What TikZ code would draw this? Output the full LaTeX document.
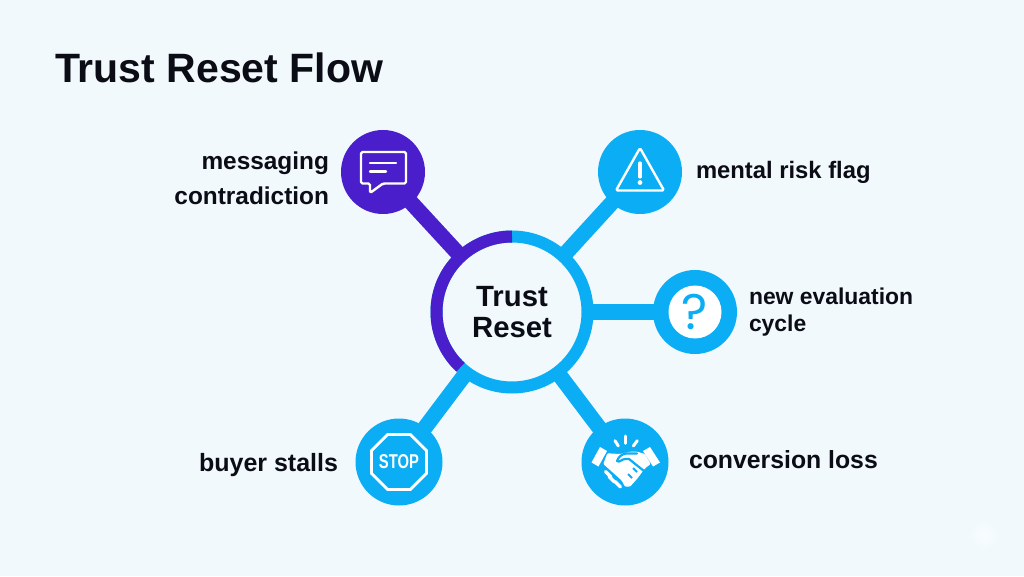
\documentclass[tikz,border=0pt]{standalone}
\usepackage{fontspec}
\setmainfont{Liberation Sans}
\newfontfamily\markfont{Poppins}
\usetikzlibrary{shapes.geometric}
\definecolor{bgc}{HTML}{F1F9FD}
\definecolor{glowc}{HTML}{F8FCFF}
\definecolor{violetc}{HTML}{4A1FCB}
\definecolor{skyc}{HTML}{0BAEF5}
\definecolor{inkc}{HTML}{0C0C16}
\tikzset{
  hubring/.style={circle,draw=skyc,line width=12pt,fill=bgc,minimum size=151pt,inner sep=0pt,outer sep=0pt,align=center,text=inkc,font=\bfseries\fontsize{29.3}{31}\selectfont},
  sat/.style={circle,minimum size=84pt,inner sep=0pt,outer sep=0pt},
  bigsat/.style={sat,minimum size=87pt},
  arm/.style={line width=15.5pt,shorten >=-1pt},
  lbl/.style={inner sep=0pt,outer sep=0pt,text=inkc,font=\bfseries\fontsize{#1}{#1}\selectfont},
  icon/.style={draw=white,line width=2.4pt,line join=round,line cap=round},
}
\begin{document}
\begin{tikzpicture}[x=1pt,y=1pt]
  \useasboundingbox (0,0) rectangle (1024,576);
  % background
  \fill[bgc] (0,0) rectangle (1024,576);
  \shade[inner color=glowc,outer color=bgc,draw=none] (984,41) circle (16);

  \node[lbl=41,anchor=base west] (title) at (55,493) {Trust Reset Flow};

  % Hub and the five circles around it
  \node[hubring] (hub) at (512,264) {Trust\\Reset};
  \node[sat,fill=violetc] (msg) at (383,404) {};
  \node[sat,fill=skyc] (warn) at (640,404) {};
  \node[sat,fill=skyc] (ques) at (695,264) {};
  \node[bigsat,fill=skyc] (stop) at (399,114) {};
  \node[bigsat,fill=skyc] (shake) at (625,114) {};

  % Arms
  \draw[arm,violetc] (hub) -- (msg);
  \draw[arm,skyc] (hub) -- (warn);
  \draw[arm,skyc] (hub) -- (ques);
  \draw[arm,skyc] (hub) -- (stop);
  \draw[arm,skyc] (hub) -- (shake);
  \draw[violetc,line width=12pt] (hub.90) arc[start angle=90,end angle=227,radius=75.5pt];

  % Labels
  \node[lbl=24.4,anchor=east,align=right] (msglbl) at (329,398) {messaging\\[10.6pt]contradiction};
  \node[lbl=23.8,anchor=base west] (warnlbl) at (696,397) {mental risk flag};
  \node[lbl=22.9,anchor=west,align=left] (queslbl) at (749,264) {new evaluation\\[3.8pt]cycle};
  \node[lbl=25,anchor=base east] (stoplbl) at (338,105) {buyer stalls};
  \node[lbl=24.8,anchor=base west] (shakelbl) at (689,107.5) {conversion loss};

  % Speech bubble
  \begin{scope}[shift={(msg.center)}]
    \draw[icon,rounded corners=1.5pt] (-22,20) -- (23,20) -- (23,-11.5) -- (0,-11.5) -- (-13,-21) -- (-13,-11.5) -- (-22,-11.5) -- cycle;
    \draw[icon] (-13,9) -- (13,9);
    \draw[icon] (-13,0.5) -- (3,0.5);
  \end{scope}

  % Warning triangle
  \begin{scope}[shift={(warn.center)}]
    \draw[icon,rounded corners=1.5pt] (0,24) -- (24,-18.5) -- (-24,-18.5) -- cycle;
    \draw[icon,line width=3.2pt] (0,9) -- (0,-5);
    \fill[white] (0,-10.5) circle (2.4);
  \end{scope}

  % Question mark
  \node[circle,fill=white,minimum size=53pt,inner sep=0pt] (quesdisc) at (ques.center) {};
  \node[inner sep=0pt,text=skyc,font=\markfont\fontsize{50}{50}\selectfont] (quesmark) at (ques.center) {?};

  % Stop sign
  \node[regular polygon,regular polygon sides=8,draw=white,line width=2.8pt,minimum size=59.5pt,inner sep=0pt] (octa) at (stop.center) {};
  \node[inner sep=0pt,text=white,xscale=.74,font=\bfseries\fontsize{20}{20}\selectfont] (stoptxt) at (stop.center) {STOP};

  % Handshake
  \begin{scope}[shift={(shake.center)}]
    \foreach \a/\b in {{(-10,21.3)}/{(-6.7,16)},{(0,26)}/{(0,18.7)},{(12.3,21.3)}/{(8.3,16)}}
      \draw[icon,line width=3pt] \a -- \b;
    \fill[white] (-33.5,-.5) -- (-25,15) -- (-18,11) -- (-26.5,-4.5) -- cycle;
    \fill[white] (18,11) -- (25,15) -- (35,-.5) -- (28,-4.5) -- cycle;
    \fill[white,rounded corners=1pt] (-17.7,8.7) -- (-5,8) -- (5,10.3) -- (12.3,10.3) -- (20,8) -- (25.7,-2) -- (20,-6.3) -- (11.7,-17.3) -- (5,-24.7) -- (0,-24.7) -- (-3,-19) -- (-6,-16) -- (-21.7,-2) -- cycle;
    \draw[skyc,line width=2.2pt,line cap=round,line join=round] (-8,1) to[out=70,in=190] (1,8.5) -- (12,8.5);
    \draw[skyc,line width=2.2pt,line cap=round,line join=round] (-8,1) to[out=-40,in=180] (0,3) -- (4,3) -- (19,-9);
    \foreach \a/\b in {{(12,-10)}/{(8,-6)},{(7,-16)}/{(3,-12)}}
      \draw[skyc,line width=1.8pt] \a -- \b;
    \foreach \a/\b in {{(-19.5,-9.5)}/{(-14,-15)},{(-16,-14.5)}/{(-10.5,-20)},{(-10,-19.5)}/{(-4.5,-25)}}
      \draw[icon,line width=3.4pt] \a -- \b;
  \end{scope}
\end{tikzpicture}
\end{document}
